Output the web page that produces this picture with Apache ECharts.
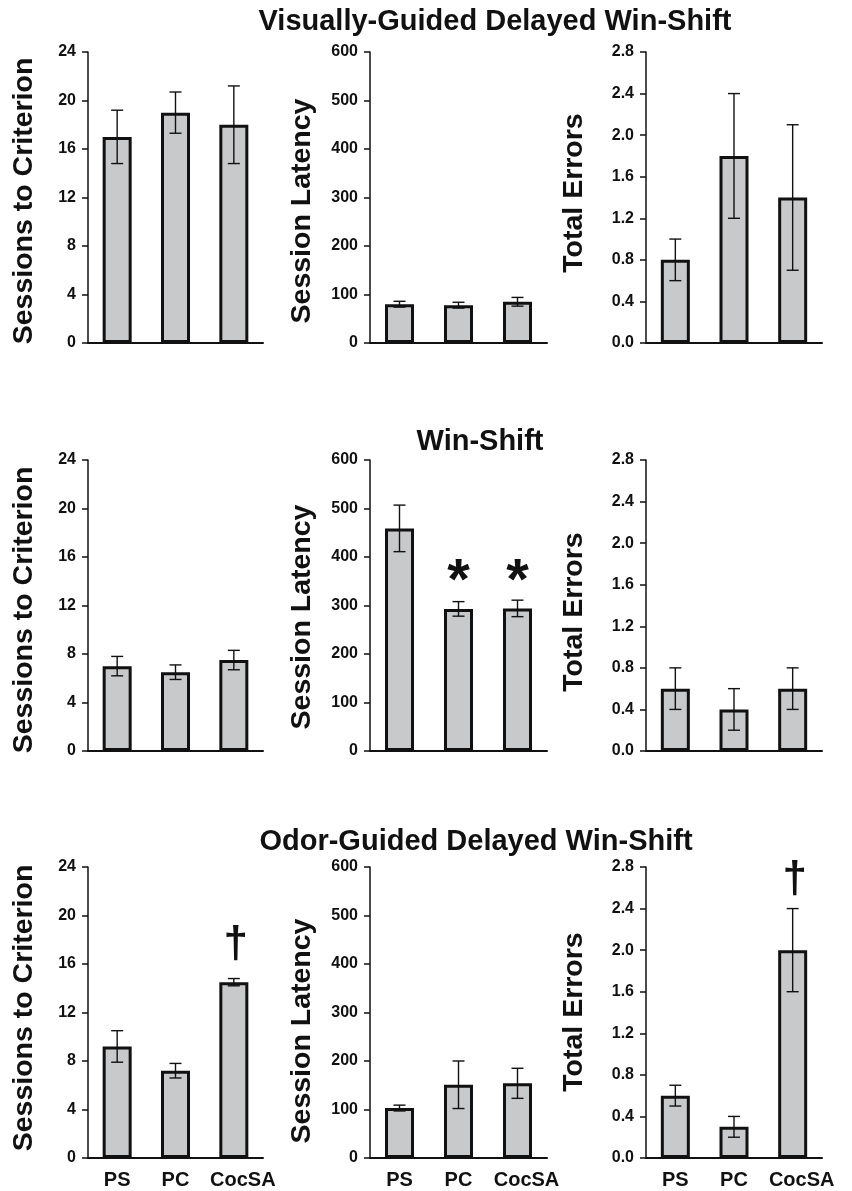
<!DOCTYPE html>
<html>
<head>
<meta charset="utf-8">
<script src="https://cdn.jsdelivr.net/npm/echarts@6/dist/echarts.min.js"></script>
<style>
  html, body { margin: 0; padding: 0; background: #ffffff; }
  #chart { width: 852px; height: 1191px; }
</style>
</head>
<body>
<div id="chart"></div>
<script>
// ---------------- data ----------------
const categories = ['PS', 'PC', 'CocSA'];

const rowTitles = ['Visually-Guided Delayed Win-Shift', 'Win-Shift', 'Odor-Guided Delayed Win-Shift'];
const measureNames = ['Sessions to Criterion', 'Session Latency', 'Total Errors'];

// Visually-Guided Delayed Win-Shift
const visSessions = [17, 19, 18];
const visSessionsErr = [2.2, 1.7, 3.2];
const visLatency = [80, 78, 85];
const visLatencyErr = [6, 6, 9];
const visErrors = [0.8, 1.8, 1.4];
const visErrorsErr = [0.2, 0.6, 0.7];

// Win-Shift
const wsSessions = [7, 6.5, 7.5];
const wsSessionsErr = [0.8, 0.6, 0.8];
const wsLatency = [459, 293, 294];
const wsLatencyErr = [48, 15, 17];
const wsErrors = [0.6, 0.4, 0.6];
const wsErrorsErr = [0.2, 0.2, 0.2];

// Odor-Guided Delayed Win-Shift
const odSessions = [9.2, 7.2, 14.5];
const odSessionsErr = [1.3, 0.6, 0.3];
const odLatency = [103, 151, 154];
const odLatencyErr = [6, 49, 31];
const odErrors = [0.6, 0.3, 2.0];
const odErrorsErr = [0.1, 0.1, 0.4];

// significance markers (value position of the symbol, null = none)
const wsLatencyStars = [null, 371, 371];
const odSessionsDaggers = [null, null, 17.6];
const odErrorsDaggers = [null, null, 2.68];

// axis scales per column
const yMax = [24, 600, 2.8];
const yInterval = [4, 100, 0.4];
const yDecimals = [0, 0, 1];

// ---------------- layout ----------------
const FONT = '"Liberation Sans", Arial, Helvetica, sans-serif';
const INK = '#111111';
const colLeft = [88, 370, 646];
const colWidth = [175, 177, 176];
const rowTop = [52, 460, 867];
const plotH = 291;
const titleX = [495, 480, 476];
const titleY = [22, 442, 842];
const nameX = [24, 302, 574];
const nameY = [[201, 211, 193], [610, 617, 612], [1008, 1031, 1012]];

const panels = [
  [[visSessions, visSessionsErr, null], [visLatency, visLatencyErr, null], [visErrors, visErrorsErr, null]],
  [[wsSessions, wsSessionsErr, null], [wsLatency, wsLatencyErr, {sym: '*', vals: wsLatencyStars}], [wsErrors, wsErrorsErr, null]],
  [[odSessions, odSessionsErr, {sym: '\u2020', vals: odSessionsDaggers}], [odLatency, odLatencyErr, null], [odErrors, odErrorsErr, {sym: '\u2020', vals: odErrorsDaggers}]]
];

const grids = [], xAxes = [], yAxes = [], series = [], graphics = [];

function errRender(params, api) {
  const i = api.value(0), v = api.value(1), e = api.value(2);
  const t = api.coord([i, v + e]);
  const b = api.coord([i, v - e]);
  const hw = 6;
  const st = { stroke: INK, lineWidth: 1.4 };
  return {
    type: 'group',
    children: [
      { type: 'line', shape: { x1: t[0], y1: t[1], x2: b[0], y2: b[1] }, style: st },
      { type: 'line', shape: { x1: t[0] - hw, y1: t[1], x2: t[0] + hw, y2: t[1] }, style: st },
      { type: 'line', shape: { x1: b[0] - hw, y1: b[1], x2: b[0] + hw, y2: b[1] }, style: st }
    ]
  };
}

function markRender(sym) {
  return function (params, api) {
    const p = api.coord([api.value(0), api.value(1)]);
    const isStar = sym === '*';
    return {
      type: 'text',
      x: p[0] + (isStar ? 0 : 2),
      y: p[1] + (isStar ? 12 : 0),
      style: {
        text: sym,
        font: 'bold ' + (isStar ? 58 : 44) + 'px ' + FONT,
        fill: INK,
        align: 'center',
        verticalAlign: 'middle'
      }
    };
  };
}

for (let r = 0; r < 3; r++) {
  for (let c = 0; c < 3; c++) {
    const gi = r * 3 + c;
    const [vals, errs, mark] = panels[r][c];
    grids.push({ left: colLeft[c], top: rowTop[r], width: colWidth[c], height: plotH, containLabel: false });
    xAxes.push({
      type: 'category',
      gridIndex: gi,
      data: categories.map((name, k) => k === 2 ? { value: name, textStyle: { padding: [0, 0, 0, 18] } } : name),
      axisLine: { show: true, lineStyle: { color: INK, width: 2 } },
      axisTick: { show: false },
      axisLabel: {
        show: r === 2,
        color: INK,
        fontFamily: FONT,
        fontWeight: 'bold',
        fontSize: 20,
        margin: 12,
        interval: 0
      },
      splitLine: { show: false }
    });
    yAxes.push({
      type: 'value',
      gridIndex: gi,
      min: 0,
      max: yMax[c],
      interval: yInterval[c],
      axisLine: { show: true, lineStyle: { color: INK, width: 1.5 } },
      axisTick: { show: true, length: 6, lineStyle: { color: INK, width: 1.5 } },
      axisLabel: {
        color: INK,
        fontFamily: FONT,
        fontWeight: 'bold',
        fontSize: 16,
        margin: 12,
        formatter: (v) => Number(v).toFixed(yDecimals[c])
      },
      splitLine: { show: false }
    });
    series.push({
      type: 'bar',
      xAxisIndex: gi,
      yAxisIndex: gi,
      data: vals,
      barWidth: 29,
      itemStyle: { color: '#c8c9cb', borderColor: INK, borderWidth: 3 },
      z: 2,
      silent: true
    });
    series.push({
      type: 'custom',
      xAxisIndex: gi,
      yAxisIndex: gi,
      data: vals.map((v, k) => [k, v, errs[k]]),
      renderItem: errRender,
      z: 5,
      silent: true
    });
    if (mark) {
      series.push({
        type: 'custom',
        xAxisIndex: gi,
        yAxisIndex: gi,
        data: mark.vals.map((v, k) => v === null ? null : [k, v]).filter(d => d !== null),
        renderItem: markRender(mark.sym),
        z: 6,
        silent: true
      });
    }
    graphics.push({
      type: 'text',
      x: nameX[c],
      y: nameY[r][c],
      rotation: Math.PI / 2,
      style: {
        text: measureNames[c],
        font: 'bold 28.5px ' + FONT,
        fill: INK,
        align: 'center',
        verticalAlign: 'middle'
      }
    });
  }
  graphics.push({
    type: 'text',
    x: titleX[r],
    y: titleY[r],
    style: {
      text: rowTitles[r],
      font: 'bold 29px ' + FONT,
      fill: INK,
      align: 'center',
      verticalAlign: 'middle'
    }
  });
}

const chart = echarts.init(document.getElementById('chart'), null, { renderer: 'canvas' });
chart.setOption({
  backgroundColor: '#ffffff',
  animation: false,
  grid: grids,
  xAxis: xAxes,
  yAxis: yAxes,
  series: series,
  graphic: graphics
});
</script>
</body>
</html>
